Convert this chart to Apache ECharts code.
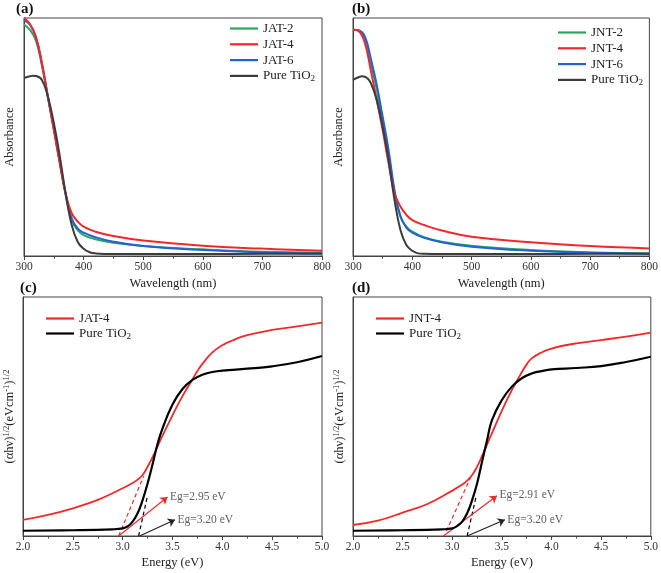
<!DOCTYPE html>
<html><head><meta charset="utf-8">
<script src="https://cdn.jsdelivr.net/npm/echarts@6/dist/echarts.min.js"></script>
<style>html,body{margin:0;padding:0;background:#fff}#c{width:661px;height:573px}</style>
</head><body><div id="c"></div>
<script>
// ---------- data ----------
const wl = [300,310,320,330,340,350,360,370,380,390,400,420,450,500,600,700,800];
const wlTiA = [300,310,315,320,330,340,350,360,370,380,390,400,410,420,450,500,600,700,800];
const wlTiB = [300,310,315,320,325,330,340,350,360,370,380,390,400,410,420,450,500,600,700,800];

const jat2 = [0.972,0.950,0.905,0.800,0.670,0.535,0.395,0.255,0.151,0.109,0.088,0.070,0.056,0.042,0.028,0.018,0.014];
const jat4 = [1.000,0.975,0.920,0.810,0.670,0.530,0.390,0.260,0.180,0.145,0.123,0.102,0.084,0.065,0.043,0.031,0.022];
const jat6 = [0.990,0.972,0.920,0.810,0.670,0.535,0.395,0.262,0.158,0.116,0.098,0.079,0.060,0.042,0.025,0.015,0.009];
const tiA  = [0.748,0.755,0.757,0.756,0.740,0.670,0.560,0.420,0.260,0.130,0.060,0.030,0.016,0.011,0.008,0.008,0.008,0.009,0.011];

const jnt2 = [0.951,0.948,0.909,0.810,0.700,0.558,0.418,0.264,0.165,0.123,0.102,0.079,0.060,0.043,0.025,0.015,0.011];
const jnt4 = [0.951,0.944,0.895,0.780,0.656,0.530,0.390,0.264,0.208,0.173,0.151,0.130,0.107,0.081,0.058,0.042,0.032];
const jnt6 = [0.951,0.948,0.923,0.830,0.720,0.586,0.446,0.278,0.168,0.119,0.098,0.076,0.058,0.039,0.022,0.014,0.008];
const tiB  = [0.740,0.752,0.755,0.753,0.745,0.727,0.656,0.544,0.404,0.236,0.109,0.046,0.022,0.011,0.009,0.008,0.008,0.008,0.009,0.011];

const enRed = [2.0,2.25,2.5,2.75,3.0,3.1,3.15,3.2,3.25,3.3,3.4,3.5,3.6,3.7,3.75,3.8,3.9,4.0,4.1,4.25,4.5,4.75,5.0];
const enTi  = [2.0,2.5,2.9,3.0,3.05,3.1,3.15,3.2,3.25,3.3,3.35,3.4,3.5,3.6,3.7,3.8,3.9,4.0,4.25,4.5,4.75,5.0];
const jat4E = [0.067,0.088,0.116,0.151,0.200,0.222,0.236,0.255,0.290,0.330,0.420,0.505,0.585,0.655,0.690,0.720,0.768,0.798,0.818,0.840,0.862,0.877,0.893];
const tiC   = [0.022,0.024,0.028,0.032,0.040,0.060,0.095,0.150,0.220,0.300,0.385,0.450,0.550,0.615,0.653,0.675,0.686,0.692,0.700,0.710,0.727,0.753];
const jnt4E = [0.046,0.064,0.098,0.134,0.190,0.215,0.232,0.255,0.290,0.335,0.430,0.525,0.610,0.685,0.718,0.743,0.768,0.784,0.795,0.806,0.820,0.834,0.851];
const tiD   = [0.022,0.024,0.028,0.032,0.042,0.060,0.095,0.150,0.220,0.311,0.400,0.485,0.569,0.625,0.660,0.680,0.690,0.697,0.703,0.711,0.728,0.750];

// tangent (dashed) lines and arrows [start, end]
const tanRedC = [[2.96,0.0],[3.21,0.25]];
const tanBlkC = [[3.16,0.0],[3.25,0.17]];
const tanRedD = [[2.94,0.02],[3.19,0.25]];
const tanBlkD = [[3.15,0.0],[3.24,0.165]];
const arrRedC = [[2.96,0.0],[3.45,0.163]];
const arrBlkC = [[3.17,0.0],[3.525,0.068]];
const arrRedD = [[2.91,0.0],[3.45,0.168]];
const arrBlkD = [[3.15,0.0],[3.53,0.068]];
const lblC = [{name:'Eg=2.95 eV', value:[3.47,0.165]},{name:'Eg=3.20 eV', value:[3.545,0.068]}];
const lblD = [{name:'Eg=2.91 eV', value:[3.47,0.172]},{name:'Eg=3.20 eV', value:[3.55,0.068]}];

const xTicksA = {min:300, max:800, interval:100};
const xTicksC = {min:2.0, max:5.0, interval:0.5};

// ---------- chart ----------
const FF = "'Liberation Serif','Times New Roman',serif";
const pairs = (xs, ys) => xs.map((x, i) => [x, ys[i]]);
const GREEN = '#2aa85a', RED = '#f0282d', BLUE = '#2461d6', GRAY = '#3c3c3c', RED2 = '#f02a2a', BLK = '#000';

const grids = [
  {left:24, top:18, width:298, height:238},
  {left:353, top:18, width:299, height:238},
  {left:23, top:297, width:299, height:239},
  {left:353, top:297, width:298, height:239}
].map(g => Object.assign(g, {show:true, borderColor:'#444', borderWidth:1, containLabel:false}));

function xAxis(idx, t, name, gap, fmt) {
  return {
    type:'value', gridIndex:idx, min:t.min, max:t.max, interval:t.interval,
    name:name, nameLocation:'middle', nameGap:gap,
    nameTextStyle:{fontFamily:FF, fontSize:12.5, color:'#222'},
    axisLine:{show:true, lineStyle:{color:'#444', width:1}},
    axisTick:{show:true, inside:false, length:4, lineStyle:{color:'#444'}},
    minorTick:{show:true, splitNumber:2, length:2.5, lineStyle:{color:'#444'}},
    splitLine:{show:false},
    axisLabel:{fontFamily:FF, fontSize:11.5, color:'#333', margin:5, formatter:fmt}
  };
}
function yAxis(idx, name, gap, rich) {
  return {
    type:'value', gridIndex:idx, min:0, max:1,
    name:name, nameLocation:'middle', nameRotate:90, nameGap:gap,
    nameTextStyle:Object.assign({fontFamily:FF, fontSize:12.5, color:'#222'}, rich ? {rich:rich} : {}),
    axisLine:{show:true, lineStyle:{color:'#444', width:1}},
    axisTick:{show:false}, axisLabel:{show:false}, splitLine:{show:false}
  };
}
const supRich = {
  n:{fontFamily:FF, fontSize:12.5, color:'#222', lineHeight:16},
  sp:{fontFamily:FF, fontSize:8.5, color:'#222', lineHeight:8, verticalAlign:'top'}
};
const yNameC = '{n|(αhν)}{sp|1/2}{n|(eVcm}{sp|-1}{n|)}{sp|1/2}';

function line(name, idx, data, color, width, z) {
  return {type:'line', name:name, xAxisIndex:idx, yAxisIndex:idx, data:data, symbol:'none', showSymbol:false,
    smooth:0.45, lineStyle:{color:color, width:width}, itemStyle:{color:color},
    z:z||2, animation:false, clip:true};
}
function dashed(idx, pts, color) {
  return {type:'line', name:'_t'+Math.random(), xAxisIndex:idx, yAxisIndex:idx, data:pts, symbol:'none',
    lineStyle:{color:color, width:1.2, type:[4,3]}, z:3, animation:false, silent:true};
}
function arrow(idx, pts, color) {
  return {type:'line', name:'_a'+Math.random(), xAxisIndex:idx, yAxisIndex:idx, data:[], symbol:'none',
    animation:false, silent:true,
    markLine:{silent:true, animation:false, symbol:['none','arrow'], symbolSize:7,
      label:{show:false}, emphasis:{disabled:true},
      lineStyle:{color:color, width:1.2, type:'solid'},
      data:[[{coord:pts[0]},{coord:pts[1]}]]}};
}
function labels(idx, data) {
  return {type:'scatter', xAxisIndex:idx, yAxisIndex:idx, data:data, symbolSize:1,
    itemStyle:{color:'rgba(0,0,0,0)'}, silent:true, animation:false,
    label:{show:true, position:'right', distance:0, formatter:'{b}', fontFamily:FF, fontSize:11.5, color:'#333'}};
}

const legRich = {
  n:{fontFamily:FF, fontSize:13, color:'#222', lineHeight:15},
  s:{fontFamily:FF, fontSize:9, color:'#222', lineHeight:8, verticalAlign:'bottom'}
};
function legFmt(name) {
  const b = name.split('#')[0];
  if (b === 'Pure TiO2') return '{n|Pure TiO}{s|2}';
  return '{n|' + b + '}';
}
function legend(names, left, top, gap) {
  return {data:names, orient:'vertical', left:left, top:top, icon:'rect', itemWidth:28, itemHeight:2.2, itemGap:gap,
    padding:0, selectedMode:false, formatter:legFmt, textStyle:{rich:legRich}};
}

const option = {
  animation:false,
  grid:grids,
  xAxis:[
    xAxis(0, xTicksA, 'Wavelength (nm)', 21),
    xAxis(1, xTicksA, 'Wavelength (nm)', 21),
    xAxis(2, xTicksC, 'Energy (eV)', 20, v => v.toFixed(1)),
    xAxis(3, xTicksC, 'Energy (eV)', 20, v => v.toFixed(1))
  ],
  yAxis:[
    yAxis(0, 'Absorbance', 8),
    yAxis(1, 'Absorbance', 8),
    yAxis(2, yNameC, 5, supRich),
    yAxis(3, yNameC, 5, supRich)
  ],
  legend:[
    legend(['JAT-2','JAT-4','JAT-6','Pure TiO2#a'], 230, 22, 2.8),
    legend(['JNT-2','JNT-4','JNT-6','Pure TiO2#b'], 558, 26, 2.8),
    legend(['JAT-4#c','Pure TiO2#c'], 46, 312, 2),
    legend(['JNT-4#d','Pure TiO2#d'], 376, 312, 2)
  ],
  graphic:[
    {type:'text', style:{x:16, y:9, text:'(a)', font:'bold 15px ' + FF, fill:'#111', align:'left', verticalAlign:'middle'}},
    {type:'text', style:{x:352, y:9, text:'(b)', font:'bold 15px ' + FF, fill:'#111', align:'left', verticalAlign:'middle'}},
    {type:'text', style:{x:20, y:288, text:'(c)', font:'bold 15px ' + FF, fill:'#111', align:'left', verticalAlign:'middle'}},
    {type:'text', style:{x:352, y:288, text:'(d)', font:'bold 15px ' + FF, fill:'#111', align:'left', verticalAlign:'middle'}}
  ],
  series:[
    line('JAT-2', 0, pairs(wl, jat2), GREEN, 2, 2),
    line('JAT-6', 0, pairs(wl, jat6), BLUE, 2, 3),
    line('JAT-4', 0, pairs(wl, jat4), RED, 2, 4),
    line('Pure TiO2#a', 0, pairs(wlTiA, tiA), GRAY, 2, 5),

    line('JNT-2', 1, pairs(wl, jnt2), GREEN, 2, 2),
    line('JNT-6', 1, pairs(wl, jnt6), BLUE, 2, 3),
    line('JNT-4', 1, pairs(wl, jnt4), RED, 2, 4),
    line('Pure TiO2#b', 1, pairs(wlTiB, tiB), GRAY, 2, 5),

    line('JAT-4#c', 2, pairs(enRed, jat4E), RED2, 1.8, 4),
    line('Pure TiO2#c', 2, pairs(enTi, tiC), BLK, 2.2, 5),
    dashed(2, tanRedC, RED2), dashed(2, tanBlkC, BLK),
    arrow(2, arrRedC, RED2), arrow(2, arrBlkC, '#222'),
    labels(2, lblC),

    line('JNT-4#d', 3, pairs(enRed, jnt4E), RED2, 1.8, 4),
    line('Pure TiO2#d', 3, pairs(enTi, tiD), BLK, 2.2, 5),
    dashed(3, tanRedD, RED2), dashed(3, tanBlkD, BLK),
    arrow(3, arrRedD, RED2), arrow(3, arrBlkD, '#222'),
    labels(3, lblD)
  ]
};
const chart = echarts.init(document.getElementById('c'), null, {renderer:'canvas'});
chart.setOption(option);
</script>
</body></html>
